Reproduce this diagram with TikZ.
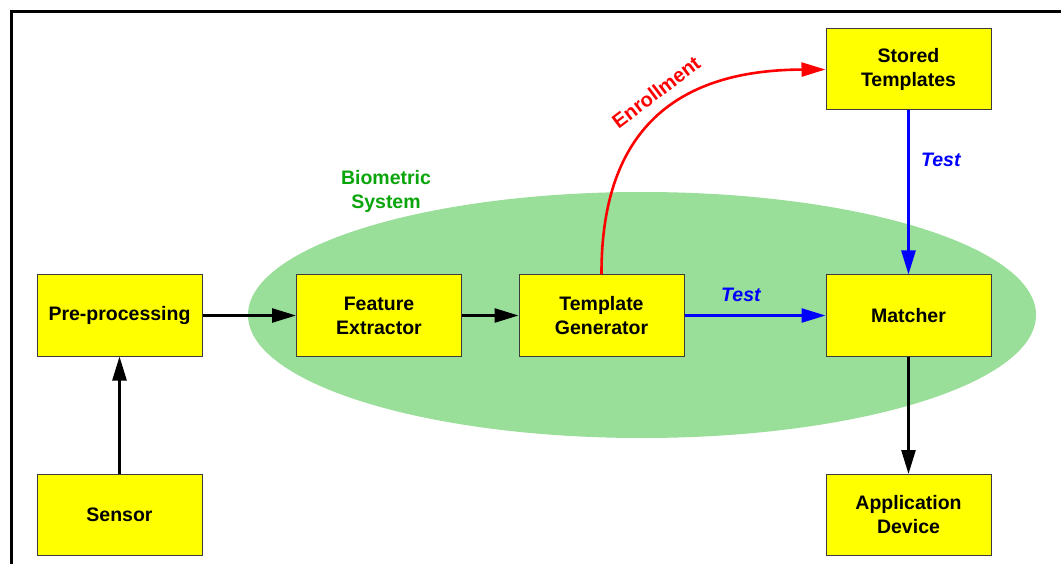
\documentclass[tikz,border=0pt]{standalone}
\usepackage{fontspec}
\setmainfont{Liberation Sans}
\usetikzlibrary{arrows.meta}
\definecolor{boxyellow}{RGB}{255,255,0}
\definecolor{ellgreen}{RGB}{153,222,153}
\definecolor{txtgreen}{RGB}{10,165,10}
\definecolor{boxline}{RGB}{60,60,60}
\tikzset{
  blk/.style={draw=boxline, line width=1pt, fill=boxyellow, minimum width=165pt, minimum height=81pt,
    inner sep=0pt, align=center, font=\fontsize{19.5}{24}\selectfont\bfseries},
  conn/.style={line width=2.6pt, -{Triangle[length=24pt,width=14pt]}},
  lbl/.style={font=\fontsize{19.5}{24}\selectfont\bfseries\itshape}
}
\begin{document}
\begin{tikzpicture}[x=1pt,y=-1pt]
\useasboundingbox (0,0) rectangle (1061,564);
\fill[white] (0,0) rectangle (1061,564);
% frame
\draw[line width=3pt] (11.5,564) -- (11.5,11.5) -- (1061,11.5);
% ellipse
\fill[ellgreen] (642,315) ellipse [x radius=394, y radius=123];
\node[font=\fontsize{19.5}{24}\selectfont\bfseries, text=txtgreen, align=center] (bio) at (386,191) {Biometric\\System};
% boxes
\node[blk] (pre) at (119.5,315.5) {Pre-processing};
\node[blk] (fe) at (379,315.5) {Feature\\Extractor};
\node[blk] (tg) at (601.5,315.5) {Template\\Generator};
\node[blk] (mat) at (908.5,315.5) {Matcher};
\node[blk] (st) at (908.5,69.5) {Stored\\Templates};
\node[blk] (sen) at (119.5,514.5) {Sensor};
\node[blk] (app) at (908.5,515) {Application\\Device};
% connectors
\draw[conn] (sen.north) -- (pre.south);
\draw[conn] (pre.east) -- (fe.west);
\draw[conn] (fe.east) -- (tg.west);
\draw[conn] (mat.south) -- (app.north);
\draw[conn, blue] (tg.east) -- node[lbl, above=9pt, pos=0.4] (t1) {Test} (mat.west);
\draw[conn, blue] (st.south) -- node[lbl, right=8pt, pos=0.3] (t2) {Test} (mat.north);
\draw[conn, red] (tg.north) .. controls (601,138) and (668,70) .. (st.west);
\node[font=\fontsize{20}{24}\selectfont\bfseries, text=red, rotate=37] (enr) at (656,92) {Enrollment};
\end{tikzpicture}
\end{document}
